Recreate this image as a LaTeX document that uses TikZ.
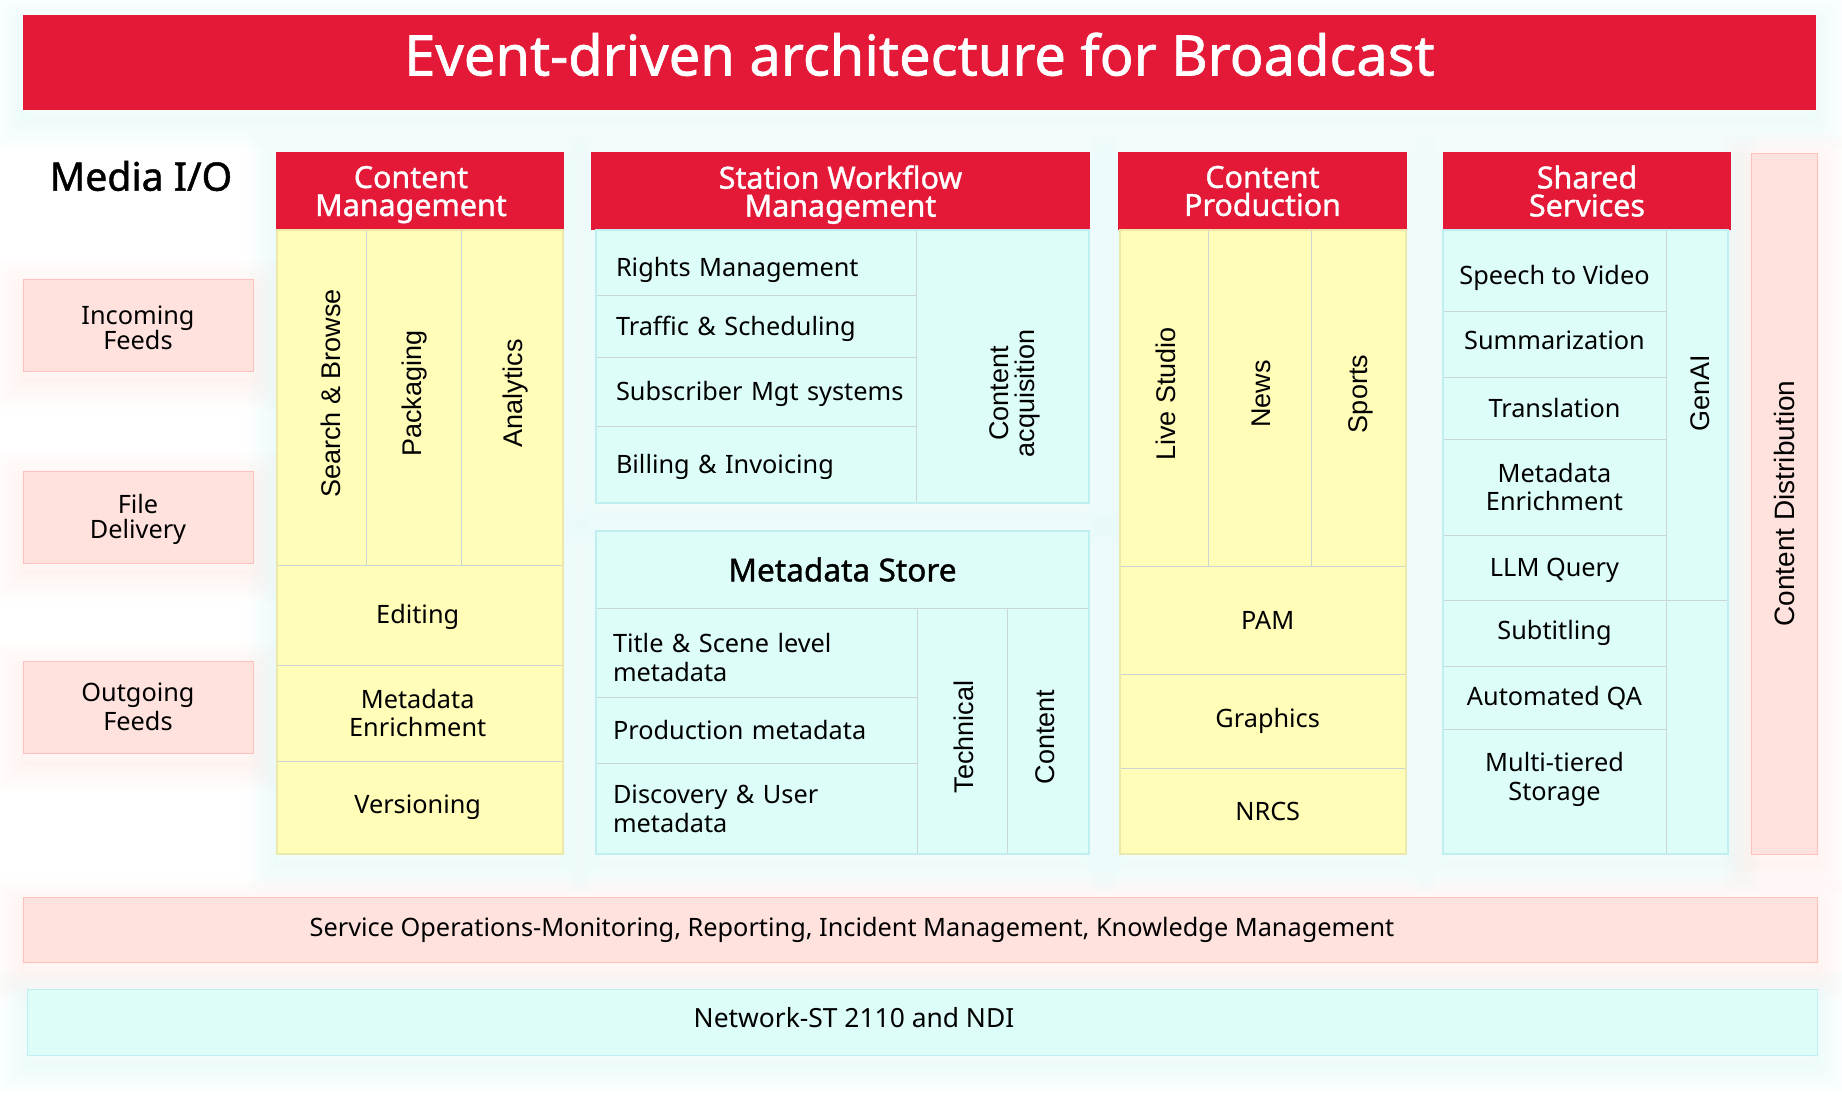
\documentclass[tikz,border=0pt]{standalone}
\usepackage{fontspec}
\usepackage{xcolor}
\setmainfont{Noto Sans}
\newfontfamily\medfont[FakeBold=1.2]{Noto Sans}
\newfontfamily\sidefont{Liberation Sans}
\newcommand{\turnedfont}{\sidefont\fontsize{13.5}{14}\selectfont}
\usepackage{tikz}
\definecolor{brandred}{HTML}{E31937}
\definecolor{softpink}{HTML}{FFE2DD}
\definecolor{softyellow}{HTML}{FFFDB8}
\definecolor{softcyan}{HTML}{DCFDF8}
\definecolor{cellline}{HTML}{CBD5D3}
\definecolor{glowcyan}{HTML}{BFEFF0}
\definecolor{glowpink}{HTML}{FFD5CC}

\tikzset{
  size/.style 2 args={minimum width=#1*0.5pt,minimum height=#2*0.5pt},
  base node/.style={anchor=north west,inner sep=0pt,outer sep=0pt,align=center,
                    font=\fontsize{12.65}{14.4}\selectfont},
  header/.style={base node,fill=brandred,text=white,
                 font=\medfont\fontsize{15.2}{14}\selectfont},
  ycell/.style={base node,fill=softyellow,draw=cellline,line width=0.5pt},
  ccell/.style={base node,fill=softcyan,draw=cellline,line width=0.5pt},
  pcell/.style={base node,fill=softpink,draw=softpink!85!red,line width=0.4pt},
  lcell/.style n args={3}{ccell,minimum height=#2*0.5pt,align=left,inner xsep=#3*0.5pt,
                       text width=(#1-#3*2)*0.5pt},
  frame/.style={draw=#1,line width=0.6pt},
  glow/.style={
    preaction={draw=#1,opacity=.035,line width=30pt,transform canvas={yshift=-5pt}},
    preaction={draw=#1,opacity=.035,line width=26pt,transform canvas={yshift=-5pt}},
    preaction={draw=#1,opacity=.035,line width=22pt,transform canvas={yshift=-5pt}},
    preaction={draw=#1,opacity=.035,line width=18pt,transform canvas={yshift=-5pt}},
    preaction={draw=#1,opacity=.04,line width=14pt,transform canvas={yshift=-5pt}},
    preaction={draw=#1,opacity=.04,line width=10pt,transform canvas={yshift=-5pt}},
    preaction={draw=#1,opacity=.05,line width=6pt,transform canvas={yshift=-5pt}},
    preaction={draw=#1,opacity=.05,line width=2pt,transform canvas={yshift=-5pt}}}
}

\begin{document}
\begin{tikzpicture}[x=0.5pt,y=-0.5pt]
 \useasboundingbox (0,0) rectangle (1842,1107);

 % panels with their glow go first
 \node[base node,glow=glowcyan,size={1793}{95}] (titlepanel) at (23,15) {};
 \node[base node,glow=glowpink,size={230}{92}] (inpanel) at (23,279) {};
 \node[base node,glow=glowpink,size={230}{92}] (filepanel) at (23,471) {};
 \node[base node,glow=glowpink,size={230}{92}] (outpanel) at (23,661) {};
 \node[base node,glow=glowcyan,size={288}{702}] (cmpanel) at (276,152) {};
 \node[base node,glow=glowcyan,size={493}{351}] (swpanel) at (596,152) {};
 \node[base node,glow=glowcyan,size={493}{323}] (mdpanel) at (596,531) {};
 \node[base node,glow=glowcyan,size={288}{702}] (cppanel) at (1119,152) {};
 \node[base node,glow=glowcyan,size={287}{702}] (sspanel) at (1443,152) {};
 \node[base node,glow=glowpink,size={66}{701}] (cdpanel) at (1751,153) {};
 \node[base node,glow=glowpink,size={1794}{65}] (oppanel) at (23,897) {};
 \node[base node,glow=glowcyan,size={1790}{66}] (netpanel) at (27,989) {};

 \node[base node,fill=brandred,text=white,size={1793}{95},text depth=8.4pt,
       font=\medfont\fontsize{28}{30}\selectfont] (title) at (23,15) {Event-driven architecture for Broadcast};

 % media i/o
 \node[base node,size={230}{50},font=\medfont\fontsize{19.6}{24}\selectfont] (media) at (23,151) {\kern3pt Media I/O};
 \node[pcell,size={230}{92},font=\fontsize{12.65}{12.9}\selectfont,text height=25pt] (incoming) at (23,279) {Incoming\\Feeds};
 \node[pcell,size={230}{92},font=\fontsize{12.65}{12.9}\selectfont,text height=25pt] (file) at (23,471) {File\\Delivery};
 \node[pcell,size={230}{92}] (outgoing) at (23,661) {Outgoing\\Feeds};

 % content management
 \node[header,size={288}{78},text depth=0pt] (cm) at (276,152) {Content\kern9pt\\Management\kern9pt};
 \node[ycell,size={89}{335}] (search) at (277,230) {\hspace{9pt}\rotatebox{90}{\hspace{4pt}\turnedfont Search \& Browse}};
 \node[ycell,size={95.5}{335}] (pack) at (search.north east) {\hspace{1pt}\rotatebox{90}{\hspace{4pt}\turnedfont Packaging}};
 \node[ycell,size={101.5}{335}] (ana) at (pack.north east) {\hspace{3.5pt}\rotatebox{90}{\hspace{4pt}\turnedfont Analytics}};
 \node[ycell,size={286}{100},text height=11.6pt] (edit) at (search.south west) {Editing\kern2.3pt};
 \node[ycell,size={286}{96}] (enrich) at (edit.south west) {Metadata\kern2.3pt\\Enrichment\kern2.3pt};
 \node[ycell,size={286}{93}] (version) at (enrich.south west) {Versioning\kern2.3pt};
 \draw[frame=softyellow!92!black] (search.north west) rectangle (version.south east);

 % station workflow
 \node[header,size={499}{78},text depth=0pt] (sw) at (591,152) {Station Workflow\\Management};
 \node[lcell={320}{66}{20},text height=16.4pt] (rights) at (596,230) {Rights Management};
 \node[lcell={320}{61}{20},text height=12pt] (traffic) at (rights.south west) {Traffic \& Scheduling};
 \node[lcell={320}{69.5}{20},text height=12pt] (subs) at (traffic.south west) {\mbox{Subscriber Mgt systems}};
 \node[lcell={320}{76.5}{20},text height=12pt] (billing) at (subs.south west) {Billing \& Invoicing};
 \node[ccell,size={173}{273}] (acq) at (rights.north east) {\hspace{13pt}\rotatebox{90}{\turnedfont\begin{tabular}{@{}c@{}}Content\\[-1pt]acquisition\end{tabular}\hspace{27pt}}};
 \draw[frame=glowcyan] (rights.north west) rectangle (acq.south east);

 % metadata store
 \node[ccell,size={493}{77},font=\medfont\fontsize{15.8}{17}\selectfont] (store) at (596,531) {Metadata Store};
 \node[lcell={321}{89}{17},text height=14.6pt] (scene) at (store.south west) {Title \& Scene level\\metadata};
 \node[lcell={321}{66}{17}] (prod) at (scene.south west) {Production metadata};
 \node[lcell={321}{91}{17}] (disc) at (prod.south west) {Discovery \& User\\metadata};
 \node[ccell,size={90}{246}] (tech) at (scene.north east) {\hspace{2.3pt}\rotatebox{90}{\turnedfont Technical\hspace{6pt}}};
 \node[ccell,size={82}{246}] (cont) at (tech.north east) {\rotatebox{90}{\turnedfont Content\hspace{6pt}}\hspace{3pt}};
 \draw[frame=glowcyan] (store.north west) rectangle (cont.south east);

 % content production
 \node[header,size={289}{78}] (cp) at (1118,152) {Content\\Production};
 \node[ycell,size={88}{336}] (live) at (1120,230) {\hspace{2.3pt}\rotatebox{90}{\hspace{4pt}\turnedfont Live Studio}};
 \node[ycell,size={103}{336}] (news) at (live.north east) {\hspace{2.3pt}\rotatebox{90}{\hspace{4pt}\turnedfont News}};
 \node[ycell,size={95}{336}] (sports) at (news.north east) {\hspace{2.3pt}\rotatebox{90}{\hspace{4pt}\turnedfont Sports}};
 \node[ycell,size={286}{108}] (pam) at (live.south west) {\kern4.7pt PAM};
 \node[ycell,size={286}{94}] (graphics) at (pam.south west) {\kern4.7pt Graphics};
 \node[ycell,size={286}{86}] (nrcs) at (graphics.south west) {\kern4.7pt NRCS};
 \draw[frame=softyellow!92!black] (live.north west) rectangle (nrcs.south east);

 % shared services
 \node[header,size={288}{78}] (ss) at (1443,152) {Shared\\Services};
 \node[ccell,size={223}{82},text height=17pt] (speech) at (1443,230) {Speech to Video};
 \node[ccell,size={223}{65},text depth=4.1pt] (summ) at (speech.south west) {Summarization};
 \node[ccell,size={223}{62}] (trans) at (summ.south west) {Translation};
 \node[ccell,size={223}{96}] (meta) at (trans.south west) {Metadata\\Enrichment};
 \node[ccell,size={223}{65},text height=11.6pt] (llm) at (meta.south west) {LLM Query};
 \node[ccell,size={223}{66}] (subt) at (llm.south west) {Subtitling};
 \node[ccell,size={223}{63.5}] (qa) at (subt.south west) {Automated QA};
 \node[ccell,size={223}{124.5},text depth=15pt] (tier) at (qa.south west) {Multi-tiered\\Storage};
 \node[ccell,size={62}{370}] (genai) at (speech.north east) {\hspace{3.5pt}\rotatebox{90}{\hspace{22pt}\turnedfont GenAI}};
 \node[ccell,size={62}{254}] (genrest) at (genai.south west) {};
 \draw[frame=glowcyan] (speech.north west) rectangle (genrest.south east);

 % distribution and the two bars
 \node[pcell,size={66}{701}] (dist) at (1751,153) {\rotatebox{90}{\sidefont\fontsize{14}{15}\selectfont Content Distribution}};
 \node[pcell,size={1794}{65}] (ops) at (23,897) {Service Operations-Monitoring, Reporting, Incident Management, Knowledge Management\kern68pt};
 \node[base node,fill=softcyan,draw=glowcyan,line width=0.4pt,size={1790}{66},text depth=4.7pt,
       font=\fontsize{13.2}{15}\selectfont] (net) at (27,989) {Network-ST 2110 and NDI\kern68pt};
\end{tikzpicture}
\end{document}
